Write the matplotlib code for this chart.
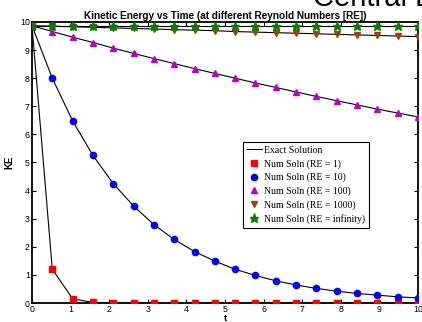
import matplotlib.pyplot as plt
import numpy as np

# time samples (20 points from 0 to 10)
t = [0.0, 0.526, 1.053, 1.579, 2.105, 2.632, 3.158, 3.684, 4.211, 4.737,
     5.263, 5.789, 6.316, 6.842, 7.368, 7.895, 8.421, 8.947, 9.474, 10.0]

# kinetic energy
ke_re1 = [9.87, 1.20, 0.15, 0.02, 0.00, 0.00, 0.00, 0.00, 0.00, 0.00,
          0.00, 0.00, 0.00, 0.00, 0.00, 0.00, 0.00, 0.00, 0.00, 0.00]
ke_re10 = [9.87, 8.00, 6.48, 5.25, 4.25, 3.45, 2.79, 2.26, 1.83, 1.49,
           1.20, 0.98, 0.79, 0.64, 0.52, 0.42, 0.34, 0.28, 0.22, 0.18]
ke_re100 = [9.87, 9.66, 9.46, 9.27, 9.07, 8.88, 8.70, 8.52, 8.34, 8.17,
            8.00, 7.83, 7.67, 7.51, 7.35, 7.20, 7.05, 6.90, 6.76, 6.62]
ke_re1000 = [9.87, 9.85, 9.83, 9.81, 9.79, 9.77, 9.75, 9.73, 9.71, 9.69,
             9.66, 9.64, 9.62, 9.60, 9.58, 9.56, 9.54, 9.52, 9.50, 9.48]
ke_reinf = [9.87] * 20

series = [
    ("Num Soln (RE = 1)", ke_re1, "s", "#ff0000"),
    ("Num Soln (RE = 10)", ke_re10, "o", "#0000ff"),
    ("Num Soln (RE = 100)", ke_re100, "^", "#bf00bf"),
    ("Num Soln (RE = 1000)", ke_re1000, "v", "#a0400a"),
    ("Num Soln (RE = infinity)", ke_reinf, "*", "#008000"),
]

fig = plt.figure(figsize=(4.22, 3.22), dpi=100)
ax = fig.add_axes([0.0758, 0.059, 0.9147, 0.8727])

for i, (name, ke, mk, col) in enumerate(series):
    ax.plot(t, ke, color="black", lw=0.8, zorder=2,
            label="Exact Solution" if i == 0 else None)
for name, ke, mk, col in series:
    ms = 6.5 if mk == "*" else 4.5
    ax.plot(t, ke, ls="none", marker=mk, color=col, mec=col, ms=ms,
            label=name, zorder=3)

ax.set_xlim(0, 10)
ax.set_ylim(0, 10)
ax.set_xticks(range(0, 11))
ax.set_yticks(range(0, 11))
ax.tick_params(direction="in", top=True, right=True, length=3, width=0.8,
               labelsize=6.3, pad=1.5)
for lab in ax.get_xticklabels() + ax.get_yticklabels():
    lab.set_family("Liberation Sans")
for sp in ax.spines.values():
    sp.set_linewidth(1.3)

ax.set_xlabel("t", fontsize=6.5, fontweight="bold", family="Liberation Sans",
              labelpad=0)
ax.set_ylabel("KE", fontsize=7, fontweight="bold", family="Liberation Sans",
              labelpad=4)
ax.set_title("Kinetic Energy vs Time (at different Reynold Numbers [RE])",
             fontsize=7.2, fontweight="bold", family="Liberation Sans", pad=2.5)

fig.text(0.742, 0.981, "Central Difference", fontsize=21,
         family="Liberation Sans", va="baseline", ha="left")

leg = ax.legend(loc="upper left", bbox_to_anchor=(0.576, 0.559),
                bbox_transform=fig.transFigure, borderaxespad=0,
                prop={"family": "Liberation Serif", "size": 7},
                fancybox=False, framealpha=1, edgecolor="black",
                handlelength=1.5, handletextpad=0.3, labelspacing=0.42,
                borderpad=0.4)
leg.get_frame().set_linewidth(0.8)

fig.savefig("out.png", dpi=100)
